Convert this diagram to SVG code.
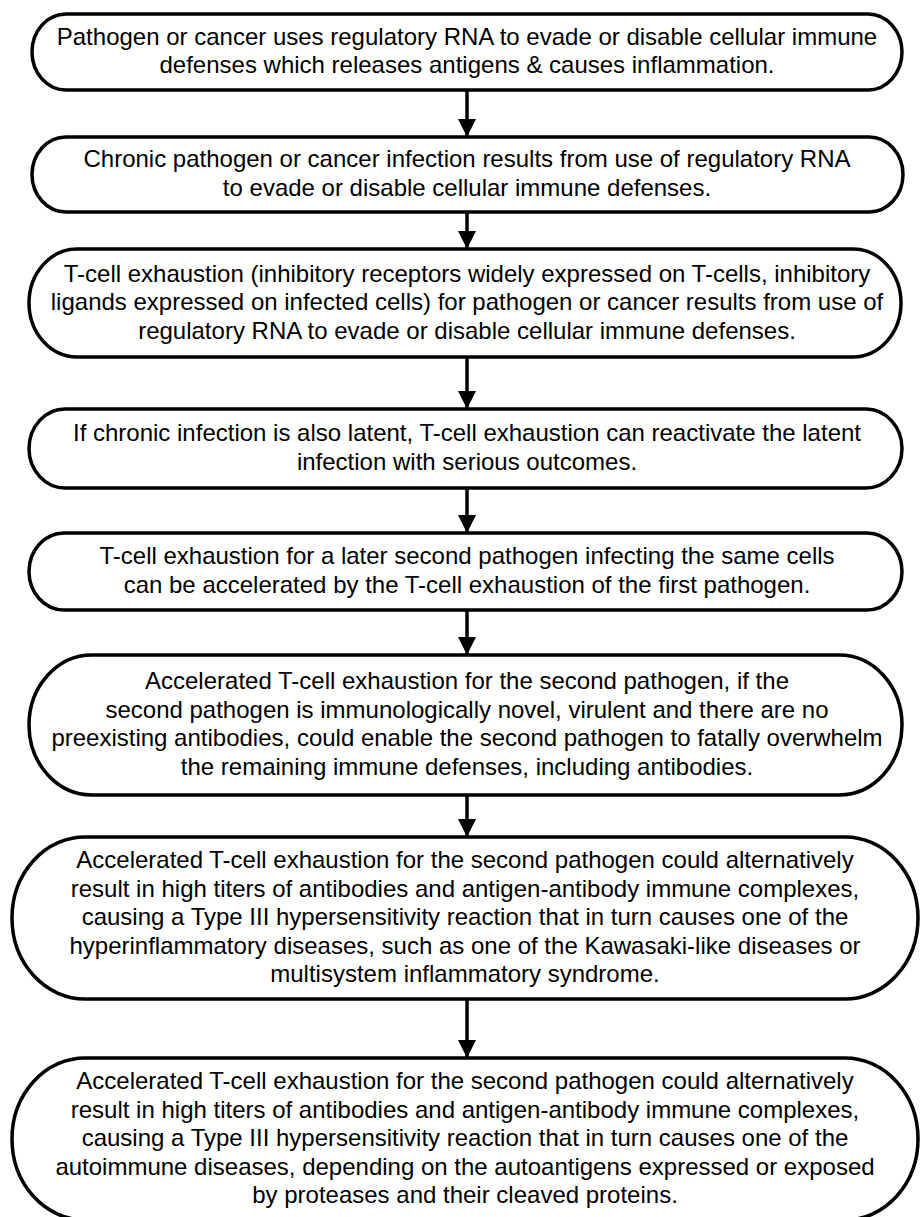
<svg xmlns="http://www.w3.org/2000/svg" width="921" height="1217" viewBox="0 0 921 1217">
<style>
.box{fill:#fff;stroke:#000;stroke-width:3.5}
.t{font-family:"Liberation Sans",Arial,sans-serif;font-size:24px;fill:#000;text-anchor:middle}
.conn line{stroke:#000;stroke-width:3.5}
</style>
<defs>
<marker id="ah" markerUnits="userSpaceOnUse" markerWidth="20" markerHeight="18" refX="18" refY="9" orient="auto">
<path d="M0,0 L18,9 L0,18 Z" fill="#000"/>
</marker>
</defs>
<rect width="921" height="1217" fill="#fff"/>
<g id="connectors" class="conn">
<line x1="467" y1="90" x2="467" y2="137" marker-end="url(#ah)"/>
<line x1="467" y1="212" x2="467" y2="249" marker-end="url(#ah)"/>
<line x1="467" y1="357" x2="467" y2="409" marker-end="url(#ah)"/>
<line x1="467" y1="488" x2="467" y2="533" marker-end="url(#ah)"/>
<line x1="467" y1="610" x2="467" y2="655" marker-end="url(#ah)"/>
<line x1="467" y1="795" x2="467" y2="837" marker-end="url(#ah)"/>
<line x1="467" y1="999" x2="467" y2="1058" marker-end="url(#ah)"/>
</g>
<g id="node1">
<path class="box" d="M66,14 H868 A34,38 0 0 1 868,90 H66 A34,38 0 0 1 66,14 Z"/>
<text class="t" x="467" y="45">Pathogen or cancer uses regulatory RNA to evade or disable cellular immune</text>
<text class="t" x="467" y="73">defenses which releases antigens &amp; causes inflammation.</text>
</g>
<g id="node2">
<path class="box" d="M66,137 H869 A34,37.5 0 0 1 869,212 H66 A34,37.5 0 0 1 66,137 Z"/>
<text class="t" x="467" y="167">Chronic pathogen or cancer infection results from use of regulatory RNA</text>
<text class="t" x="467" y="196">to evade or disable cellular immune defenses.</text>
</g>
<g id="node3">
<path class="box" d="M77,249 H853 A48,54 0 0 1 853,357 H77 A48,54 0 0 1 77,249 Z"/>
<text class="t" x="467" y="281.5">T-cell exhaustion (inhibitory receptors widely expressed on T-cells, inhibitory</text>
<text class="t" x="467" y="310">ligands expressed on infected cells) for pathogen or cancer results from use of</text>
<text class="t" x="467" y="338.5">regulatory RNA to evade or disable cellular immune defenses.</text>
</g>
<g id="node4">
<path class="box" d="M65,409 H866 A36,39.5 0 0 1 866,488 H65 A36,39.5 0 0 1 65,409 Z"/>
<text class="t" x="467" y="441">If chronic infection is also latent, T-cell exhaustion can reactivate the latent</text>
<text class="t" x="467" y="470">infection with serious outcomes.</text>
</g>
<g id="node5">
<path class="box" d="M64,533 H867 A35,38.5 0 0 1 867,610 H64 A35,38.5 0 0 1 64,533 Z"/>
<text class="t" x="467" y="564">T-cell exhaustion for a later second pathogen infecting the same cells</text>
<text class="t" x="467" y="593">can be accelerated by the T-cell exhaustion of the first pathogen.</text>
</g>
<g id="node6">
<path class="box" d="M92,655 H839 A63,70 0 0 1 839,795 H92 A63,70 0 0 1 92,655 Z"/>
<text class="t" x="467" y="689">Accelerated T-cell exhaustion for the second pathogen, if the</text>
<text class="t" x="467" y="718">second pathogen is immunologically novel, virulent and there are no</text>
<text class="t" x="467" y="746">preexisting antibodies, could enable the second pathogen to fatally overwhelm</text>
<text class="t" x="467" y="775">the remaining immune defenses, including antibodies.</text>
</g>
<g id="node7">
<path class="box" d="M85,837 H845 A73,81 0 0 1 845,999 H85 A73,81 0 0 1 85,837 Z"/>
<text class="t" x="465" y="868">Accelerated T-cell exhaustion for the second pathogen could alternatively</text>
<text class="t" x="465" y="896.5">result in high titers of antibodies and antigen-antibody immune complexes,</text>
<text class="t" x="465" y="925">causing a Type III hypersensitivity reaction that in turn causes one of the</text>
<text class="t" x="465" y="953.5">hyperinflammatory diseases, such as one of the Kawasaki-like diseases or</text>
<text class="t" x="465" y="982">multisystem inflammatory syndrome.</text>
</g>
<g id="node8">
<path class="box" d="M85,1058 H845 A73,81 0 0 1 845,1220 H85 A73,81 0 0 1 85,1058 Z"/>
<text class="t" x="465" y="1089">Accelerated T-cell exhaustion for the second pathogen could alternatively</text>
<text class="t" x="465" y="1117.5">result in high titers of antibodies and antigen-antibody immune complexes,</text>
<text class="t" x="465" y="1146">causing a Type III hypersensitivity reaction that in turn causes one of the</text>
<text class="t" x="465" y="1174.5">autoimmune diseases, depending on the autoantigens expressed or exposed</text>
<text class="t" x="465" y="1203">by proteases and their cleaved proteins.</text>
</g>
</svg>
